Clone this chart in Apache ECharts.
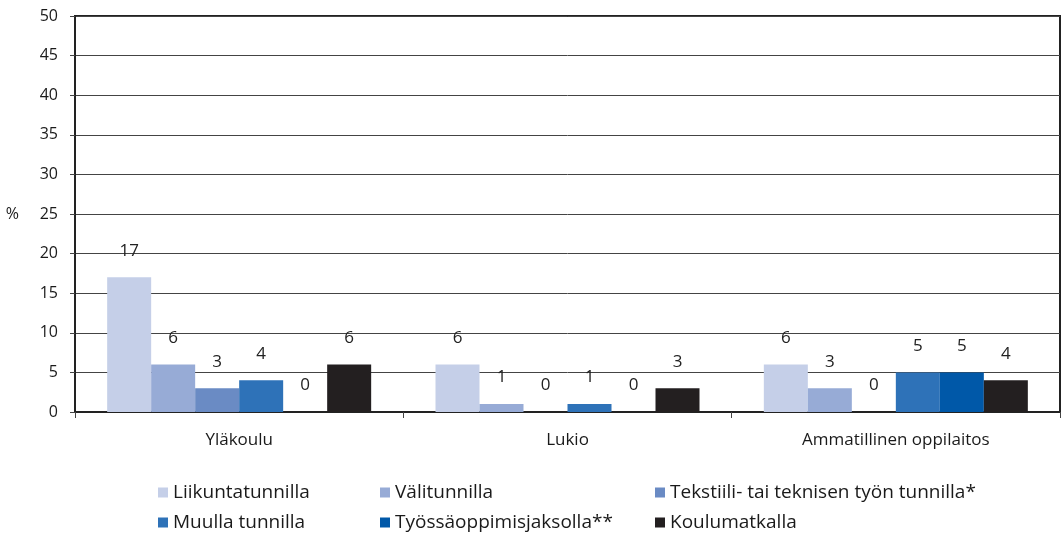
<!DOCTYPE html>
<html>
<head>
<meta charset="utf-8">
<script src="https://cdn.jsdelivr.net/npm/echarts@6/dist/echarts.min.js"></script>
<style>
  body { margin: 0; background: #fff; }
  #chart { width: 1062px; height: 536px; }
</style>
</head>
<body>
<div id="chart"></div>
<script>
// school levels on the x axis
const categories = ['Yläkoulu', 'Lukio', 'Ammatillinen oppilaitos'];

// one array per place of injury (%)
const liikunta = [17, 6, 6];
const valitunti = [6, 1, 3];
const tekstiili = [3, 0, 0];
const muulla = [4, 1, 5];
const tyossaoppiminen = [0, 0, 5];
const koulumatka = [6, 3, 4];

const seriesNames = [
  'Liikuntatunnilla',
  'Välitunnilla',
  'Tekstiili- tai teknisen työn tunnilla*',
  'Muulla tunnilla',
  'Työssäoppimisjaksolla**',
  'Koulumatkalla'
];
const seriesData = [liikunta, valitunti, tekstiili, muulla, tyossaoppiminen, koulumatka];
const colors = ['#c5cfe8', '#97abd6', '#6a8bc4', '#2e72b8', '#0058a8', '#231f20'];

const yTicks = { min: 0, max: 50, interval: 5 };

const font = 'Open Sans';
const myChart = echarts.init(document.getElementById('chart'));

const series = seriesNames.map((name, i) => ({
  name: name,
  type: 'bar',
  data: seriesData[i],
  barWidth: 44,
  barGap: '0%',
  itemStyle: { color: colors[i] },
  label: {
    show: true,
    position: 'top',
    distance: 18,
    color: '#222',
    fontFamily: font,
    fontSize: 17
  }
}));

// legend is a 3x2 grid, one legend per item so the columns line up
const legendCols = [158, 380, 655];
const legendRows = [483, 513];
const legends = seriesNames.map((name, i) => ({
  left: legendCols[i % 3],
  top: legendRows[Math.floor(i / 3)],
  padding: 0,
  itemWidth: 10,
  itemHeight: 10,
  icon: 'rect',
  data: [name],
  textStyle: { fontFamily: font, fontSize: 19, color: '#1a1a1a', padding: [0, 0, 0, 0] }
}));

const option = {
  animation: false,
  color: colors,
  grid: {
    left: 75,
    right: 2,
    top: 16,
    bottom: 124,
    show: true,
    borderColor: '#222',
    borderWidth: 2
  },
  legend: legends,
  xAxis: {
    type: 'category',
    data: categories,
    axisLine: { lineStyle: { color: '#222', width: 2 } },
    axisTick: { show: true, length: 6, lineStyle: { color: '#444' } },
    axisLabel: { margin: 20, color: '#1a1a1a', fontFamily: font, fontSize: 17 }
  },
  yAxis: {
    type: 'value',
    min: yTicks.min,
    max: yTicks.max,
    interval: yTicks.interval,
    name: '%',
    nameLocation: 'middle',
    nameRotate: 0,
    nameGap: 56,
    nameTextStyle: { color: '#1a1a1a', fontFamily: font, fontSize: 16 },
    axisLine: { show: true, lineStyle: { color: '#222', width: 2 } },
    axisTick: { show: true, length: 5, lineStyle: { color: '#444' } },
    axisLabel: { margin: 17, color: '#1a1a1a', fontFamily: font, fontSize: 16 },
    splitLine: { lineStyle: { color: '#444', width: 1 } }
  },
  series: series
};

myChart.setOption(option);
</script>
</body>
</html>
